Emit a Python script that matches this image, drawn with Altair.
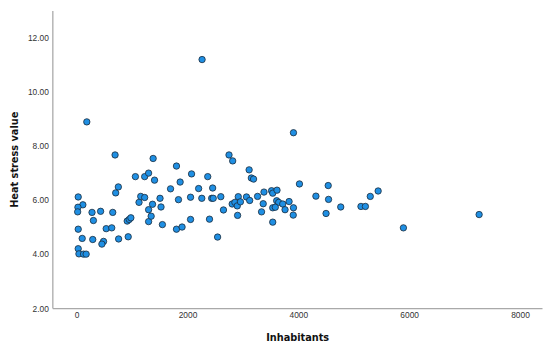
import altair as alt
import pandas as pd

inhabitants = [28, 112, 23, 18, 28, 100, 28, 41, 124, 171,
               183, 277, 302, 290, 432, 485, 455, 533, 633, 651,
               693, 704, 752, 757, 912, 948, 978, 930, 1060, 1125,
               1156, 1227, 1227, 1298, 1298, 1298, 1344, 1369, 1380, 1405,
               1504, 1522, 1547, 1694, 1801, 1801, 1837, 1867, 1902, 2055,
               2073, 2055, 2201, 2258, 2263, 2365, 2397, 2436, 2464, 2454,
               2543, 2601, 2649, 2749, 2815, 2806, 2855, 2898, 2904, 2916,
               2955, 3064, 3112, 3122, 3152, 3192, 3264, 3336, 3366, 3380,
               3517, 3538, 3615, 3609, 3645, 3718, 3538, 3584, 3538, 3760,
               3833, 3912, 3908, 3912, 4020, 4317, 4539, 4545, 4500, 4765,
               5130, 5210, 5298, 5440, 5896, 7262]

heat_stress = [6.10, 5.81, 5.72, 5.55, 4.91, 4.57, 4.19, 4.00, 3.99, 3.99,
               8.87, 5.53, 5.23, 4.53, 5.57, 4.46, 4.36, 4.93, 4.96, 5.53,
               7.65, 6.25, 6.47, 4.55, 5.21, 5.27, 5.33, 4.63, 6.85, 5.90,
               6.12, 6.85, 6.08, 6.98, 5.63, 5.19, 5.39, 5.83, 7.52, 6.72,
               6.05, 5.73, 5.08, 6.40, 7.24, 4.91, 6.00, 6.65, 4.99, 6.09,
               6.95, 5.27, 6.41, 6.05, 11.17, 6.85, 5.28, 6.05, 6.05, 6.43,
               4.62, 6.11, 5.62, 7.65, 7.43, 5.84, 5.90, 5.77, 5.42, 6.11,
               5.92, 6.10, 7.10, 5.97, 6.80, 6.76, 6.12, 5.55, 5.85, 6.28,
               6.33, 6.24, 6.35, 5.96, 5.90, 5.84, 5.70, 5.72, 5.17, 5.63,
               5.93, 5.70, 5.43, 8.47, 6.58, 6.13, 6.52, 6.01, 5.49, 5.73,
               5.75, 5.75, 6.12, 6.32, 4.96, 5.45]

x_ticks = [0, 2000, 4000, 6000, 8000]
y_ticks = [2, 4, 6, 8, 10, 12]

df = pd.DataFrame({"Inhabitants": inhabitants, "Heat stress value": heat_stress})

title_font = "DejaVu Sans Condensed, Liberation Sans, sans-serif"

chart = alt.Chart(df).mark_point(
    filled=True, shape="circle", size=42, fill="#1f8fe3", fillOpacity=1,
    stroke="#1b2a3a", strokeWidth=0.8, opacity=1
).encode(
    x=alt.X("Inhabitants:Q",
            scale=alt.Scale(domain=[-439, 8397], nice=False, zero=False),
            axis=alt.Axis(values=x_ticks, format="d", grid=False, ticks=False,
                          domainColor="#a9a9a9", domainWidth=1.3,
                          labelFont="Liberation Sans", labelFontSize=8.5,
                          labelColor="#333333", labelPadding=3,
                          title="Inhabitants", titleFont=title_font,
                          titleFontSize=11, titleFontWeight="bold",
                          titleColor="#111111", titlePadding=12)),
    y=alt.Y("Heat stress value:Q",
            scale=alt.Scale(domain=[2, 12.98], nice=False, zero=False),
            axis=alt.Axis(values=y_ticks, format=".2f", grid=False, ticks=False,
                          domainColor="#a9a9a9", domainWidth=1.3,
                          labelFont="Liberation Sans", labelFontSize=8.5,
                          labelColor="#333333", labelPadding=4,
                          title="Heat stress value", titleFont=title_font,
                          titleFontSize=11, titleFontWeight="bold",
                          titleColor="#111111", titlePadding=8)),
).properties(
    width=497, height=302,
    autosize=alt.AutoSizeParams(type="none"),
    padding={"left": 45, "top": 0, "right": 1, "bottom": 38},
).configure_view(stroke=None)

chart.save("out.html", embed_options={"renderer": "svg", "actions": False})
